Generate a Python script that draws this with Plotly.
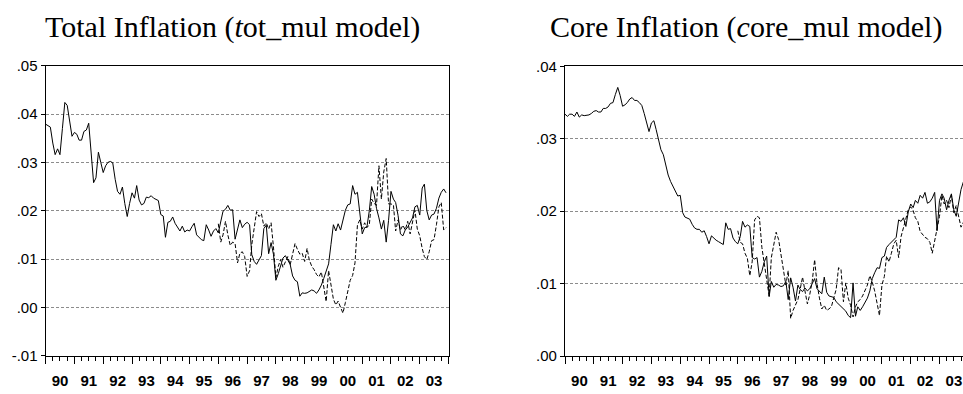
import plotly.graph_objects as go
import pandas as pd

# monthly dates 1990M1 .. 2003M12
dates = pd.date_range("1990-01-01", periods=168, freq="MS")
fc_dates = dates[72:]  # forecasts start 1996M1

year_labels = ["90", "91", "92", "93", "94", "95", "96", "97", "98", "99", "00", "01", "02", "03"]

tot_actual = [
    0.0379, 0.0376, 0.0373, 0.0340, 0.0316, 0.0328, 0.0316, 0.0370, 0.0424, 0.0418, 0.0380, 0.0354,
    0.0362, 0.0358, 0.0346, 0.0346, 0.0364, 0.0367, 0.0381, 0.0310, 0.0258, 0.0268, 0.0321, 0.0300,
    0.0279, 0.0293, 0.0300, 0.0302, 0.0299, 0.0265, 0.0240, 0.0234, 0.0249, 0.0215, 0.0188, 0.0215,
    0.0237, 0.0226, 0.0252, 0.0222, 0.0212, 0.0215, 0.0228, 0.0227, 0.0231, 0.0226, 0.0224, 0.0221,
    0.0192, 0.0189, 0.0145, 0.0176, 0.0178, 0.0187, 0.0174, 0.0165, 0.0158, 0.0168, 0.0156, 0.0160,
    0.0158, 0.0167, 0.0174, 0.0150, 0.0144, 0.0140, 0.0138, 0.0171, 0.0160, 0.0147, 0.0158, 0.0163,
    0.0154, 0.0175, 0.0199, 0.0203, 0.0211, 0.0201, 0.0202, 0.0141, 0.0160, 0.0181, 0.0165, 0.0172,
    0.0176, 0.0171, 0.0109, 0.0095, 0.0089, 0.0098, 0.0107, 0.0163, 0.0170, 0.0111, 0.0134, 0.0110,
    0.0056, 0.0070, 0.0085, 0.0102, 0.0107, 0.0098, 0.0089, 0.0065, 0.0056, 0.0053, 0.0023, 0.0030,
    0.0029, 0.0030, 0.0033, 0.0036, 0.0034, 0.0029, 0.0036, 0.0046, 0.0060, 0.0075, 0.0090, 0.0130,
    0.0171, 0.0158, 0.0173, 0.0160, 0.0180, 0.0201, 0.0212, 0.0214, 0.0252, 0.0234, 0.0238, 0.0200,
    0.0152, 0.0165, 0.0166, 0.0200, 0.0250, 0.0234, 0.0205, 0.0185, 0.0162, 0.0180, 0.0135, 0.0180,
    0.0240, 0.0224, 0.0217, 0.0190, 0.0152, 0.0148, 0.0160, 0.0166, 0.0175, 0.0185, 0.0208, 0.0211,
    0.0191, 0.0247, 0.0255, 0.0200, 0.0181, 0.0191, 0.0193, 0.0205, 0.0226, 0.0238, 0.0245, 0.0237,
]

tot_forecast = [
    0.0173, 0.0135, 0.0150, 0.0178, 0.0150, 0.0128, 0.0135, 0.0132, 0.0092, 0.0112, 0.0115, 0.0105,
    0.0064, 0.0076, 0.0130, 0.0160, 0.0198, 0.0188, 0.0194, 0.0168, 0.0175, 0.0162, 0.0175, 0.0125,
    0.0062, 0.0085, 0.0099, 0.0083, 0.0095, 0.0105, 0.0088, 0.0110, 0.0132, 0.0120, 0.0110, 0.0112,
    0.0095, 0.0122, 0.0098, 0.0085, 0.0078, 0.0068, 0.0063, 0.0073, 0.0040, 0.0012, 0.0076, 0.0050,
    0.0017, 0.0005, 0.0013, 0.0000, -0.0012, 0.0010, 0.0035, 0.0056, 0.0066, 0.0092, 0.0170, 0.0181,
    0.0162, 0.0175, 0.0165, 0.0171, 0.0224, 0.0215, 0.0211, 0.0293, 0.0224, 0.0280, 0.0308, 0.0214,
    0.0214, 0.0212, 0.0158, 0.0181, 0.0160, 0.0170, 0.0160, 0.0178, 0.0152, 0.0175, 0.0201, 0.0162,
    0.0148, 0.0122, 0.0105, 0.0099, 0.0115, 0.0138, 0.0140, 0.0171, 0.0208, 0.0217, 0.0160, 0.0165,
]

core_actual = [
    0.0334, 0.0331, 0.0334, 0.0334, 0.0331, 0.0337, 0.0330, 0.0333, 0.0332, 0.0332, 0.0333, 0.0335,
    0.0338, 0.0339, 0.0337, 0.0337, 0.0342, 0.0342, 0.0344, 0.0349, 0.0350, 0.0361, 0.0371, 0.0360,
    0.0345, 0.0347, 0.0350, 0.0355, 0.0357, 0.0353, 0.0353, 0.0350, 0.0346, 0.0335, 0.0322, 0.0310,
    0.0322, 0.0325, 0.0313, 0.0299, 0.0285, 0.0278, 0.0262, 0.0250, 0.0241, 0.0235, 0.0228, 0.0221,
    0.0222, 0.0198, 0.0192, 0.0190, 0.0189, 0.0182, 0.0177, 0.0175, 0.0175, 0.0171, 0.0173, 0.0165,
    0.0155, 0.0166, 0.0163, 0.0160, 0.0158, 0.0156, 0.0154, 0.0184, 0.0175, 0.0176, 0.0163, 0.0158,
    0.0155, 0.0165, 0.0186, 0.0178, 0.0181, 0.0179, 0.0136, 0.0134, 0.0136, 0.0109, 0.0117, 0.0130,
    0.0138, 0.0082, 0.0103, 0.0095, 0.0099, 0.0098, 0.0096, 0.0097, 0.0103, 0.0078, 0.0108, 0.0095,
    0.0076, 0.0098, 0.0092, 0.0089, 0.0094, 0.0090, 0.0093, 0.0100, 0.0107, 0.0093, 0.0090, 0.0086,
    0.0109, 0.0088, 0.0083, 0.0082, 0.0081, 0.0075, 0.0072, 0.0069, 0.0066, 0.0062, 0.0056, 0.0053,
    0.0101, 0.0055, 0.0068, 0.0063, 0.0068, 0.0074, 0.0080, 0.0090, 0.0107, 0.0115, 0.0122, 0.0121,
    0.0136, 0.0138, 0.0150, 0.0154, 0.0157, 0.0160, 0.0164, 0.0188, 0.0186, 0.0191, 0.0179, 0.0199,
    0.0210, 0.0205, 0.0215, 0.0211, 0.0222, 0.0218, 0.0226, 0.0211, 0.0213, 0.0218, 0.0226, 0.0173,
    0.0215, 0.0224, 0.0218, 0.0202, 0.0215, 0.0224, 0.0202, 0.0193, 0.0211, 0.0230, 0.0241, 0.0245,
]

core_forecast = [
    0.0173, 0.0157, 0.0155, 0.0142, 0.0135, 0.0111, 0.0130, 0.0188, 0.0193, 0.0191, 0.0150, 0.0129,
    0.0109, 0.0083, 0.0136, 0.0153, 0.0171, 0.0161, 0.0141, 0.0118, 0.0098, 0.0118, 0.0052, 0.0063,
    0.0070, 0.0078, 0.0092, 0.0109, 0.0090, 0.0072, 0.0085, 0.0103, 0.0133, 0.0100, 0.0080, 0.0065,
    0.0070, 0.0063, 0.0065, 0.0068, 0.0080, 0.0092, 0.0122, 0.0120, 0.0075, 0.0101, 0.0080, 0.0070,
    0.0054, 0.0068, 0.0075, 0.0078, 0.0083, 0.0092, 0.0098, 0.0111, 0.0102, 0.0090, 0.0070, 0.0056,
    0.0098, 0.0110, 0.0138, 0.0130, 0.0142, 0.0155, 0.0160, 0.0136, 0.0165, 0.0178, 0.0190, 0.0202,
    0.0206, 0.0201, 0.0191, 0.0186, 0.0172, 0.0167, 0.0164, 0.0162, 0.0157, 0.0142, 0.0158, 0.0173,
    0.0193, 0.0222, 0.0210, 0.0215, 0.0205, 0.0222, 0.0198, 0.0208, 0.0193, 0.0178, 0.0185, 0.0180,
]

left_yticks = [-0.01, 0.00, 0.01, 0.02, 0.03, 0.04, 0.05]
left_ylabels = ["-.01", ".00", ".01", ".02", ".03", ".04", ".05"]
right_yticks = [0.00, 0.01, 0.02, 0.03, 0.04]
right_ylabels = [".00", ".01", ".02", ".03", ".04"]

titles = ["Total Inflation (<i>t</i>ot_mul model)", "Core Inflation (<i>c</i>ore_mul model)"]

W, H = 963, 394
fig = go.Figure()

line_solid = dict(color="black", width=1)
line_dash = dict(color="black", width=1, dash="4px,2px")

fig.add_trace(go.Scatter(x=dates, y=tot_actual, mode="lines", line=line_solid, xaxis="x", yaxis="y", showlegend=False))
fig.add_trace(go.Scatter(x=fc_dates, y=tot_forecast, mode="lines", line=line_dash, xaxis="x", yaxis="y", showlegend=False))
fig.add_trace(go.Scatter(x=dates, y=core_actual, mode="lines", line=line_solid, xaxis="x2", yaxis="y2", showlegend=False))
fig.add_trace(go.Scatter(x=fc_dates, y=core_forecast, mode="lines", line=line_dash, xaxis="x2", yaxis="y2", showlegend=False))


def xaxis(domain, rng):
    return dict(
        domain=domain, type="date", range=rng,
        dtick="M12", tick0="1990-01-01", tickformat="%y", ticklabelmode="period",
        ticks="outside", ticklen=7, tickwidth=1, tickcolor="black", ticklabelstandoff=4,
        minor=dict(dtick="M3", tick0="1990-01-01", ticks="outside", ticklen=4, tickwidth=1, tickcolor="black"),
        showgrid=False, showline=True, linecolor="black", linewidth=1.3, mirror=True,
        tickfont=dict(family="Liberation Sans, Arial", size=15, color="black", weight="bold"),
        zeroline=False, fixedrange=True,
    )


def yaxis(domain, rng, vals, labels, mirror):
    return dict(
        domain=domain, range=rng, tickvals=vals, ticktext=labels,
        ticks="outside", ticklen=4, tickwidth=1, tickcolor="black",
        showgrid=True, gridcolor="#8c8c8c", griddash="3px,2px", gridwidth=1,
        showline=True, linecolor="black", linewidth=1.3, mirror=mirror,
        tickfont=dict(family="Liberation Sans, Arial", size=15, color="black"),
        zeroline=False, fixedrange=True,
    )


fig.update_layout(
    width=W, height=H,
    margin=dict(l=0, r=0, t=0, b=0),
    paper_bgcolor="white", plot_bgcolor="white",
    xaxis=xaxis([45.7 / W, 448.5 / W], ["1990-01-01", "2004-01-01"]) | dict(anchor="y"),
    yaxis=yaxis([(H - 362.3) / H, (H - 59.3) / H], [-0.01, 0.05], left_yticks, left_ylabels, True) | dict(anchor="x"),
    xaxis2=xaxis([565.0 / W, 1.0], ["1990-01-01", "2003-10-26"]) | dict(anchor="y2"),
    yaxis2=yaxis([(H - 362.7) / H, (H - 60.0) / H], [0.0, 0.04], right_yticks, right_ylabels, False) | dict(anchor="x2"),
)

for t, cx in zip(titles, [232, 746]):
    fig.add_annotation(
        text=t, x=cx / W, y=(H - 19) / H, xref="paper", yref="paper",
        xanchor="center", yanchor="middle", showarrow=False,
        font=dict(family="Liberation Serif, Times New Roman", size=30, color="black"),
    )

fig.write_html("out.html", config={"displayModeBar": False})
